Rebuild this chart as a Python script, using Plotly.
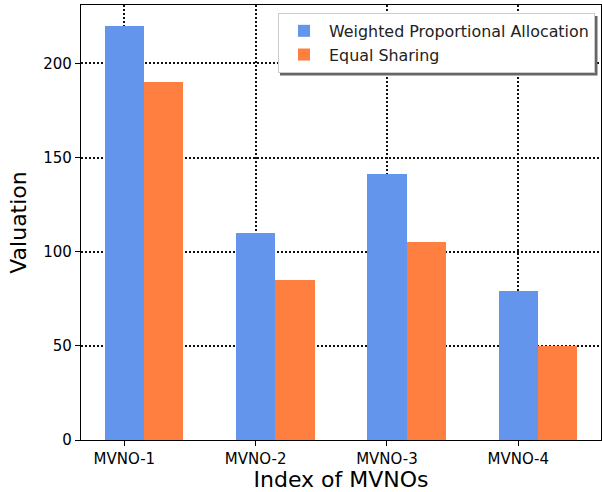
import plotly.graph_objects as go

categories = ["MVNO-1", "MVNO-2", "MVNO-3", "MVNO-4"]
weighted = [220, 110, 141, 79]
equal = [190, 85, 105, 50]
y_ticks = [0, 50, 100, 150, 200]

idx = list(range(len(categories)))
bw = 0.3

FONT = "DejaVu Sans"
fig = go.Figure()
fig.add_trace(go.Bar(x=idx, y=weighted, width=bw, name="Weighted Proportional Allocation",
                     marker=dict(color="#6495ED", line=dict(width=0))))
fig.add_trace(go.Bar(x=[i + bw for i in idx], y=equal, width=bw, name="Equal Sharing",
                     marker=dict(color="#FF7F41", line=dict(width=0))))

ax_common = dict(showline=True, linecolor="black", linewidth=1.2, mirror=True,
                 ticks="outside", ticklen=5, tickwidth=1.2, tickcolor="black",
                 showgrid=True, gridcolor="#111111", griddash="1.5px,2.5px", gridwidth=1.5,
                 layer="above traces", zeroline=False, automargin=False,
                 tickfont=dict(family=FONT, size=15, color="black"))

fig.update_layout(
    width=602, height=492,
    margin=dict(l=81, r=1, t=5, b=52, autoexpand=False),
    plot_bgcolor="white", paper_bgcolor="white",
    barmode="overlay", bargap=0,
    font=dict(family=FONT, color="black"),
    xaxis=dict(ax_common, range=[-0.33, 3.63], tickvals=idx, ticktext=categories,
               title=dict(text="Index of MVNOs", font=dict(family=FONT, size=22), standoff=4)),
    yaxis=dict(ax_common, range=[0, 231], tickvals=y_ticks,
               title=dict(text="Valuation", font=dict(family=FONT, size=22), standoff=10)),
    legend=dict(x=(595 - 81) / 520, y=(440 - 13) / 435, xanchor="right", yanchor="top",
                bgcolor="white", bordercolor="#cccccc", borderwidth=1,
                font=dict(family=FONT, size=15.9, color="#222222"),
                tracegroupgap=0, itemwidth=40),
    showlegend=True,
)

# legend drop shadow
fig.add_shape(type="rect", xref="paper", yref="paper",
              x0=(280 - 81) / 520, x1=(597.5 - 81) / 520,
              y0=(440 - 75.5) / 435, y1=(440 - 16) / 435,
              fillcolor="#666666", line=dict(width=0), layer="above")

fig.write_html("out.html", config={"displayModeBar": False},
               post_script="document.body.style.margin='0';document.body.style.overflow='hidden';")
